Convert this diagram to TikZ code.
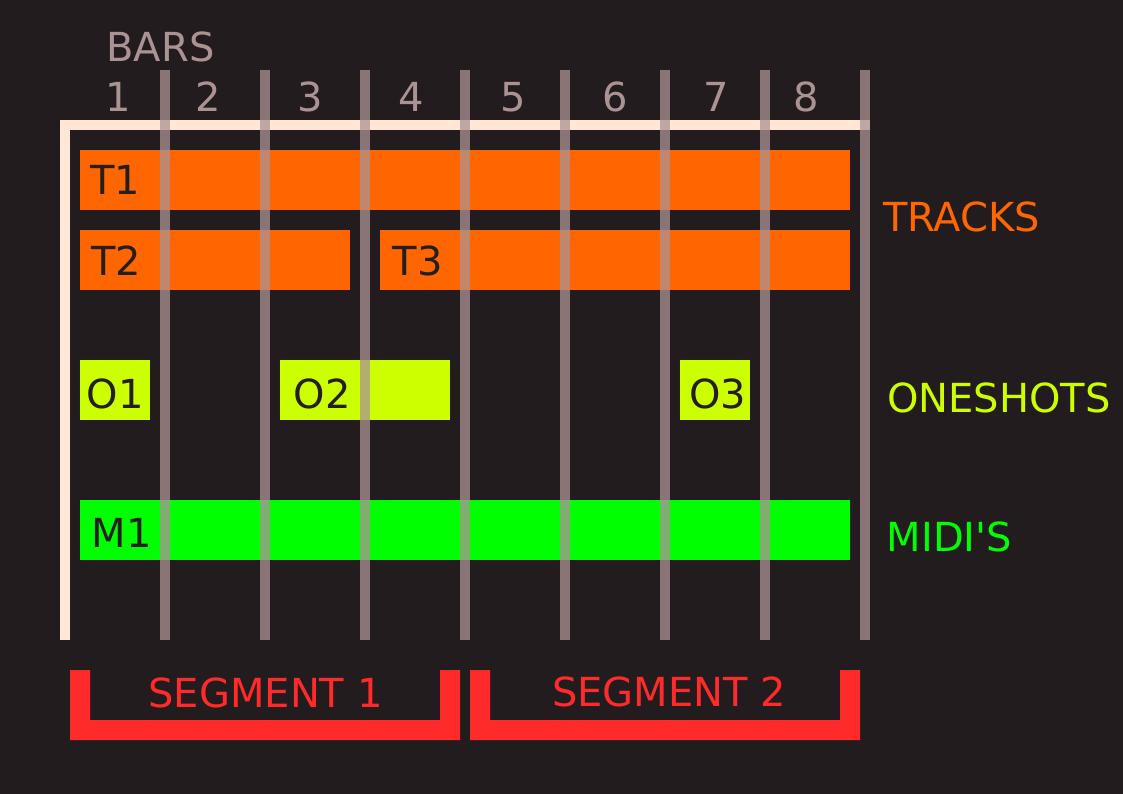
\documentclass[tikz,border=0pt]{standalone}
\usepackage{fontspec}
\setmainfont{DejaVu Sans}[Ligatures=TeXOff]
\definecolor{bg}{RGB}{35,28,30}
\definecolor{greyc}{RGB}{172,147,147}
\definecolor{cream}{RGB}{255,230,213}
\definecolor{orng}{RGB}{255,102,0}
\definecolor{ylw}{RGB}{204,255,0}
\definecolor{grn}{RGB}{0,255,0}
\definecolor{segred}{RGB}{255,42,42}
\definecolor{dark}{RGB}{35,31,32}
\tikzset{
  txt/.style={inner sep=0pt, anchor=base, xshift=1pt, font=\fontsize{40}{48}\selectfont},
  bartxt/.style={txt, text=dark},
  barbox/.style={draw=none, inner sep=0pt, anchor=north west},
  gridline/.style={draw=greyc, draw opacity=0.75, line width=10pt},
}
\begin{document}
\begin{tikzpicture}[x=1pt,y=-1pt]
\useasboundingbox (0,0) rectangle (1123,794);
\fill[bg] (0,0) rectangle (1123,794);
% frame
\draw[cream, line width=10pt, line join=miter] (65,640) -- (65,125) -- (870,125);
% bars
\node[barbox, fill=orng, minimum width=770pt, minimum height=60pt] (t1) at (80,150) {};
\node[barbox, fill=orng, minimum width=270pt, minimum height=60pt] (t2) at (80,230) {};
\node[barbox, fill=orng, minimum width=470pt, minimum height=60pt] (t3) at (380,230) {};
\node[barbox, fill=ylw, minimum width=70pt, minimum height=60pt] (o1) at (80,360) {};
\node[barbox, fill=ylw, minimum width=170pt, minimum height=60pt] (o2) at (280,360) {};
\node[barbox, fill=ylw, minimum width=70pt, minimum height=60pt] (o3) at (680,360) {};
\node[barbox, fill=grn, minimum width=770pt, minimum height=60pt] (m1) at (80,500) {};
% bar labels
\node[bartxt] (t1l) at (114.5,195) {T1};
\node[bartxt] (t2l) at (115,275) {T2};
\node[bartxt] (t3l) at (416.5,275) {T3};
\node[bartxt] (o1l) at (114,408) {O1};
\node[bartxt] (o2l) at (321,408) {O2};
\node[bartxt] (o3l) at (716.5,408) {O3};
\node[bartxt] (m1l) at (120.5,547) {M1};
% grid lines
\foreach \i in {1,...,8} {
  \coordinate (gt\i) at ({65+100*\i},70);
  \coordinate (gb\i) at ({65+100*\i},640);
  \draw[gridline] (gt\i) -- (gb\i);
}
% header
\node[txt, text=greyc] (bars) at (159.5,62) {BARS};
\node[txt, text=greyc] (n1) at (117.5,112) {1};
\node[txt, text=greyc] (n2) at (207.5,112) {2};
\node[txt, text=greyc] (n3) at (309,112) {3};
\node[txt, text=greyc] (n4) at (410.5,112) {4};
\node[txt, text=greyc] (n5) at (512,112) {5};
\node[txt, text=greyc] (n6) at (614,112) {6};
\node[txt, text=greyc] (n7) at (715.5,112) {7};
\node[txt, text=greyc] (n8) at (805.5,112) {8};
% right labels
\node[txt, text=orng] (tracks) at (960.5,232) {TRACKS};
\node[txt, text=ylw] (oneshots) at (998,412) {ONESHOTS};
\node[txt, text=grn] (midis) at (948.5,551) {MIDI'S};
% segments
\fill[segred] (70,670) -- (70,740) -- (460,740) -- (460,670) -- (440,670) -- (440,720) -- (90,720) -- (90,670) -- cycle;
\fill[segred] (470,670) -- (470,740) -- (860,740) -- (860,670) -- (840,670) -- (840,720) -- (490,720) -- (490,670) -- cycle;
\node[txt, text=segred] (seg1) at (264.5,707) {SEGMENT 1};
\node[txt, text=segred] (seg2) at (668,706) {SEGMENT 2};
\end{tikzpicture}
\end{document}
